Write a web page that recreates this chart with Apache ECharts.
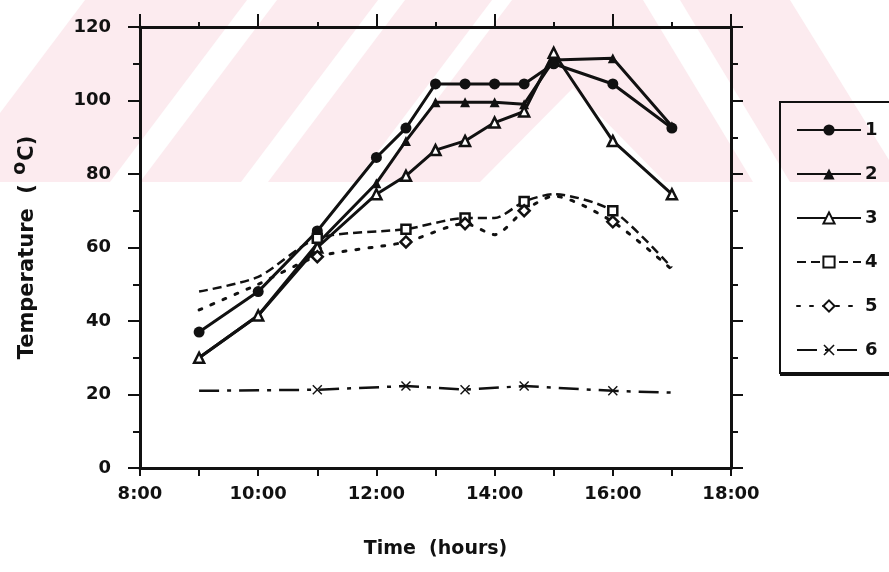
<!DOCTYPE html>
<html>
<head>
<meta charset="utf-8">
<script src="https://cdn.jsdelivr.net/npm/echarts@6/dist/echarts.min.js"></script>
<style>html,body{margin:0;padding:0;background:#fff}#c{width:889px;height:572px}</style>
</head>
<body>
<div id="c"></div>
<script>
// ---- data ----
const seriesNames = ['1', '2', '3', '4', '5', '6'];
const xTicks = [8, 10, 12, 14, 16, 18];
const yTicks = [0, 20, 40, 60, 80, 100, 120];

const hoursA = [9, 10, 11, 12, 12.5, 13, 13.5, 14, 14.5, 15, 16, 17];
const temp1 = [37, 48, 64.5, 84.5, 92.5, 104.5, 104.5, 104.5, 104.5, 110, 104.5, 92.5];
const temp2 = [30, 41.5, 61, 77.5, 89, 99.5, 99.5, 99.5, 99, 111, 111.5, 93];
const temp3 = [30, 41.5, 60, 74.5, 79.5, 86.5, 89, 94, 97, 113, 89, 74.5];

const hours4 = [9, 10, 11, 12.5, 13.5, 14, 14.5, 15, 16, 17];
const temp4 = [48, 52, 62.5, 65, 68, 68, 72.5, 74.5, 70, 54.5];
const mark4 = [0, 0, 1, 1, 1, 0, 1, 0, 1, 0];

const hours5 = [9, 10, 11, 12.5, 13.5, 14, 14.5, 15, 16, 17];
const temp5 = [43, 50, 57.5, 61.5, 66.5, 63.5, 70, 74, 67, 54];
const mark5 = [0, 0, 1, 1, 1, 0, 1, 0, 1, 0];

const hours6 = [9, 11, 12.5, 13.5, 14.5, 16, 17];
const temp6 = [21, 21.3, 22.3, 21.3, 22.3, 21, 20.5];
const mark6 = [0, 1, 1, 1, 1, 1, 0];

// ---- helpers ----
const FONT = '"DejaVu Sans", Verdana, sans-serif';
const BLACK = '#111';
function pairs(xs, ys, marks) {
  return xs.map((x, i) => {
    const item = { value: [x, ys[i]] };
    if (marks && !marks[i]) item.symbol = 'none';
    return item;
  });
}
const crossPath = 'path://M1,0 L5,4 L9,0 L10,1 L6,5 L10,9 L9,10 L5,6 L1,10 L0,9 L4,5 L0,1 Z';

function lineSeries(name, data, opt) {
  return Object.assign({
    name: name,
    type: 'line',
    data: data,
    showAllSymbol: true,
    symbolSize: 9,
    lineStyle: { color: BLACK, width: 3 },
    itemStyle: { color: BLACK, borderColor: BLACK, borderWidth: 0 },
    emphasis: { disabled: true },
    animation: false
  }, opt);
}

const axisCommon = {
  type: 'value',
  axisLine: { show: true, onZero: false, lineStyle: { color: BLACK, width: 3 } },
  splitLine: { show: false },
};

// watermark stripes (pink band with white diagonal gaps)
const PINK = '#fcebef';
const whitePolys = [
  [[0, 0], [85, 0], [0, 113]],
  [[247, 0], [277, 0], [140, 182], [110, 182]],
  [[378, 0], [405, 0], [268, 182], [241, 182]],
  [[492, 0], [512, 0], [375, 182], [355, 182]],
  [[573, 88], [665, 182], [480, 182]],
  [[643, 0], [680, 0], [790, 182], [753, 182]],
  [[790, 0], [889, 0], [889, 160]]
];
const graphics = [{ type: 'rect', z: -10, silent: true, shape: { x: 0, y: 0, width: 889, height: 182 }, style: { fill: PINK } }]
  .concat(whitePolys.map(p => ({ type: 'polygon', z: -9, silent: true, shape: { points: p }, style: { fill: '#fff' } })))
  .concat([{ type: 'rect', z: 10, silent: true, shape: { x: 780, y: 372, width: 109, height: 4 }, style: { fill: BLACK } }]);

const chart = echarts.init(document.getElementById('c'), null, { renderer: 'canvas' });
chart.setOption({
  backgroundColor: '#fff',
  animation: false,
  textStyle: { fontFamily: FONT },
  graphic: graphics,
  grid: { left: 140, right: 158, top: 27, bottom: 104 },
  legend: {
    data: seriesNames,
    orient: 'vertical',
    left: 780,
    top: 102,
    itemWidth: 64,
    itemHeight: 14,
    itemGap: 26,
    padding: [19, 40, 14, 16],
    borderColor: BLACK,
    borderWidth: 2,
    textStyle: { fontFamily: FONT, fontWeight: 'bold', fontSize: 18, color: BLACK, padding: [0, 0, 0, -1] },
    selectedMode: false
  },
  xAxis: [
    Object.assign({}, axisCommon, {
      position: 'bottom',
      min: xTicks[0], max: xTicks[xTicks.length - 1], interval: 2,
      axisTick: { show: true, length: 8, lineStyle: { color: BLACK, width: 2 } },
      minorTick: { show: true, splitNumber: 2, length: 8, lineStyle: { color: BLACK, width: 2 } },
      axisLabel: { formatter: v => v + ':00', fontFamily: FONT, fontWeight: 'bold', fontSize: 18, color: BLACK, margin: 17 },
      name: 'Time  (hours)',
      nameLocation: 'middle',
      nameGap: 72,
      nameTextStyle: { fontFamily: FONT, fontWeight: 'bold', fontSize: 19, color: BLACK }
    }),
    Object.assign({}, axisCommon, {
      position: 'top',
      min: xTicks[0], max: xTicks[xTicks.length - 1], interval: 2,
      axisTick: { show: true, length: 13, lineStyle: { color: BLACK, width: 2 } },
      minorTick: { show: true, splitNumber: 2, length: 5, lineStyle: { color: BLACK, width: 2 } },
      axisLabel: { show: false }
    })
  ],
  yAxis: [
    Object.assign({}, axisCommon, {
      position: 'left',
      min: yTicks[0], max: yTicks[yTicks.length - 1], interval: 20,
      axisTick: { show: true, length: 12, lineStyle: { color: BLACK, width: 2 } },
      minorTick: { show: true, splitNumber: 2, length: 7, lineStyle: { color: BLACK, width: 2 } },
      axisLabel: { fontFamily: FONT, fontWeight: 'bold', fontSize: 18, color: BLACK, margin: 29 },
      name: 'Temperature  ( {s|o}C)',
      nameLocation: 'middle',
      nameRotate: 90,
      nameGap: 96,
      nameTextStyle: {
        fontFamily: FONT, fontWeight: 'bold', fontSize: 21, color: BLACK,
        rich: { s: { fontFamily: FONT, fontWeight: 'bold', fontSize: 19, color: BLACK, padding: [0, 1, 14, 2] } }
      }
    }),
    Object.assign({}, axisCommon, {
      position: 'right',
      min: yTicks[0], max: yTicks[yTicks.length - 1], interval: 20,
      axisTick: { show: true, length: 12, lineStyle: { color: BLACK, width: 2 } },
      minorTick: { show: true, splitNumber: 2, length: 7, lineStyle: { color: BLACK, width: 2 } },
      axisLabel: { show: false }
    })
  ],
  series: [
    lineSeries('1', pairs(hoursA, temp1), { symbol: 'circle', symbolSize: 11 }),
    lineSeries('2', pairs(hoursA, temp2), { symbol: 'triangle', symbolSize: 10 }),
    lineSeries('3', pairs(hoursA, temp3), { symbol: 'triangle', symbolSize: 10,
      itemStyle: { color: '#fff', borderColor: BLACK, borderWidth: 2.5 } }),
    lineSeries('4', pairs(hours4, temp4, mark4), { symbol: 'rect', symbolSize: 9, smooth: 0.25,
      lineStyle: { color: BLACK, width: 2.5, type: [9, 5] },
      itemStyle: { color: '#fff', borderColor: BLACK, borderWidth: 2.5 } }),
    lineSeries('5', pairs(hours5, temp5, mark5), { symbol: 'diamond', symbolSize: 11, smooth: 0.25,
      lineStyle: { color: BLACK, width: 3, type: [3, 10], cap: 'round' },
      itemStyle: { color: '#fff', borderColor: BLACK, borderWidth: 2.5 } }),
    lineSeries('6', pairs(hours6, temp6, mark6), { symbol: crossPath, symbolSize: 10,
      lineStyle: { color: BLACK, width: 2.5, type: [20, 8, 4, 8] } })
  ]
});
</script>
</body>
</html>
